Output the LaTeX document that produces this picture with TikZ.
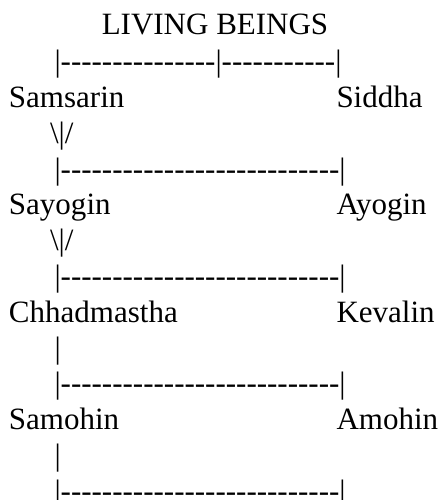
\documentclass[tikz,border=0pt]{standalone}
\usepackage{fontspec}
\setmainfont{Liberation Serif}[Ligatures=TeXOff]
\begin{document}
\begin{tikzpicture}[x=1pt,y=1pt,
  txt/.style={inner sep=0pt,outer sep=0pt,anchor=base west,font=\fontsize{31}{36}\selectfont}]
\useasboundingbox (0,0) rectangle (440,-500);
\node[txt,anchor=base] (title) at (215,-35) {LIVING BEINGS};
\node[txt] (bar1) at (54.5,-72) {|---------------|-----------|};
\node[txt] (samsarin) at (9,-107) {Samsarin};
\node[txt] (siddha) at (336.5,-107) {Siddha};
\node[txt] (arr1) at (50,-143) {\textbackslash|/};
\node[txt] (bar2) at (54.5,-179) {|---------------------------|};
\node[txt] (sayogin) at (9,-214) {Sayogin};
\node[txt] (ayogin) at (336.5,-214) {Ayogin};
\node[txt] (arr2) at (50,-250) {\textbackslash|/};
\node[txt] (bar3) at (54.5,-286) {|---------------------------|};
\node[txt] (chhad) at (9,-322) {Chhadmastha};
\node[txt] (kevalin) at (336.5,-322) {Kevalin};
\node[txt] (pipe1) at (54.5,-358) {|};
\node[txt] (bar4) at (54.5,-393) {|---------------------------|};
\node[txt] (samohin) at (9,-429) {Samohin};
\node[txt] (amohin) at (336.5,-429) {Amohin};
\node[txt] (pipe2) at (54.5,-465) {|};
\node[txt] (bar5) at (54.5,-501) {|---------------------------|};
\end{tikzpicture}
\end{document}
